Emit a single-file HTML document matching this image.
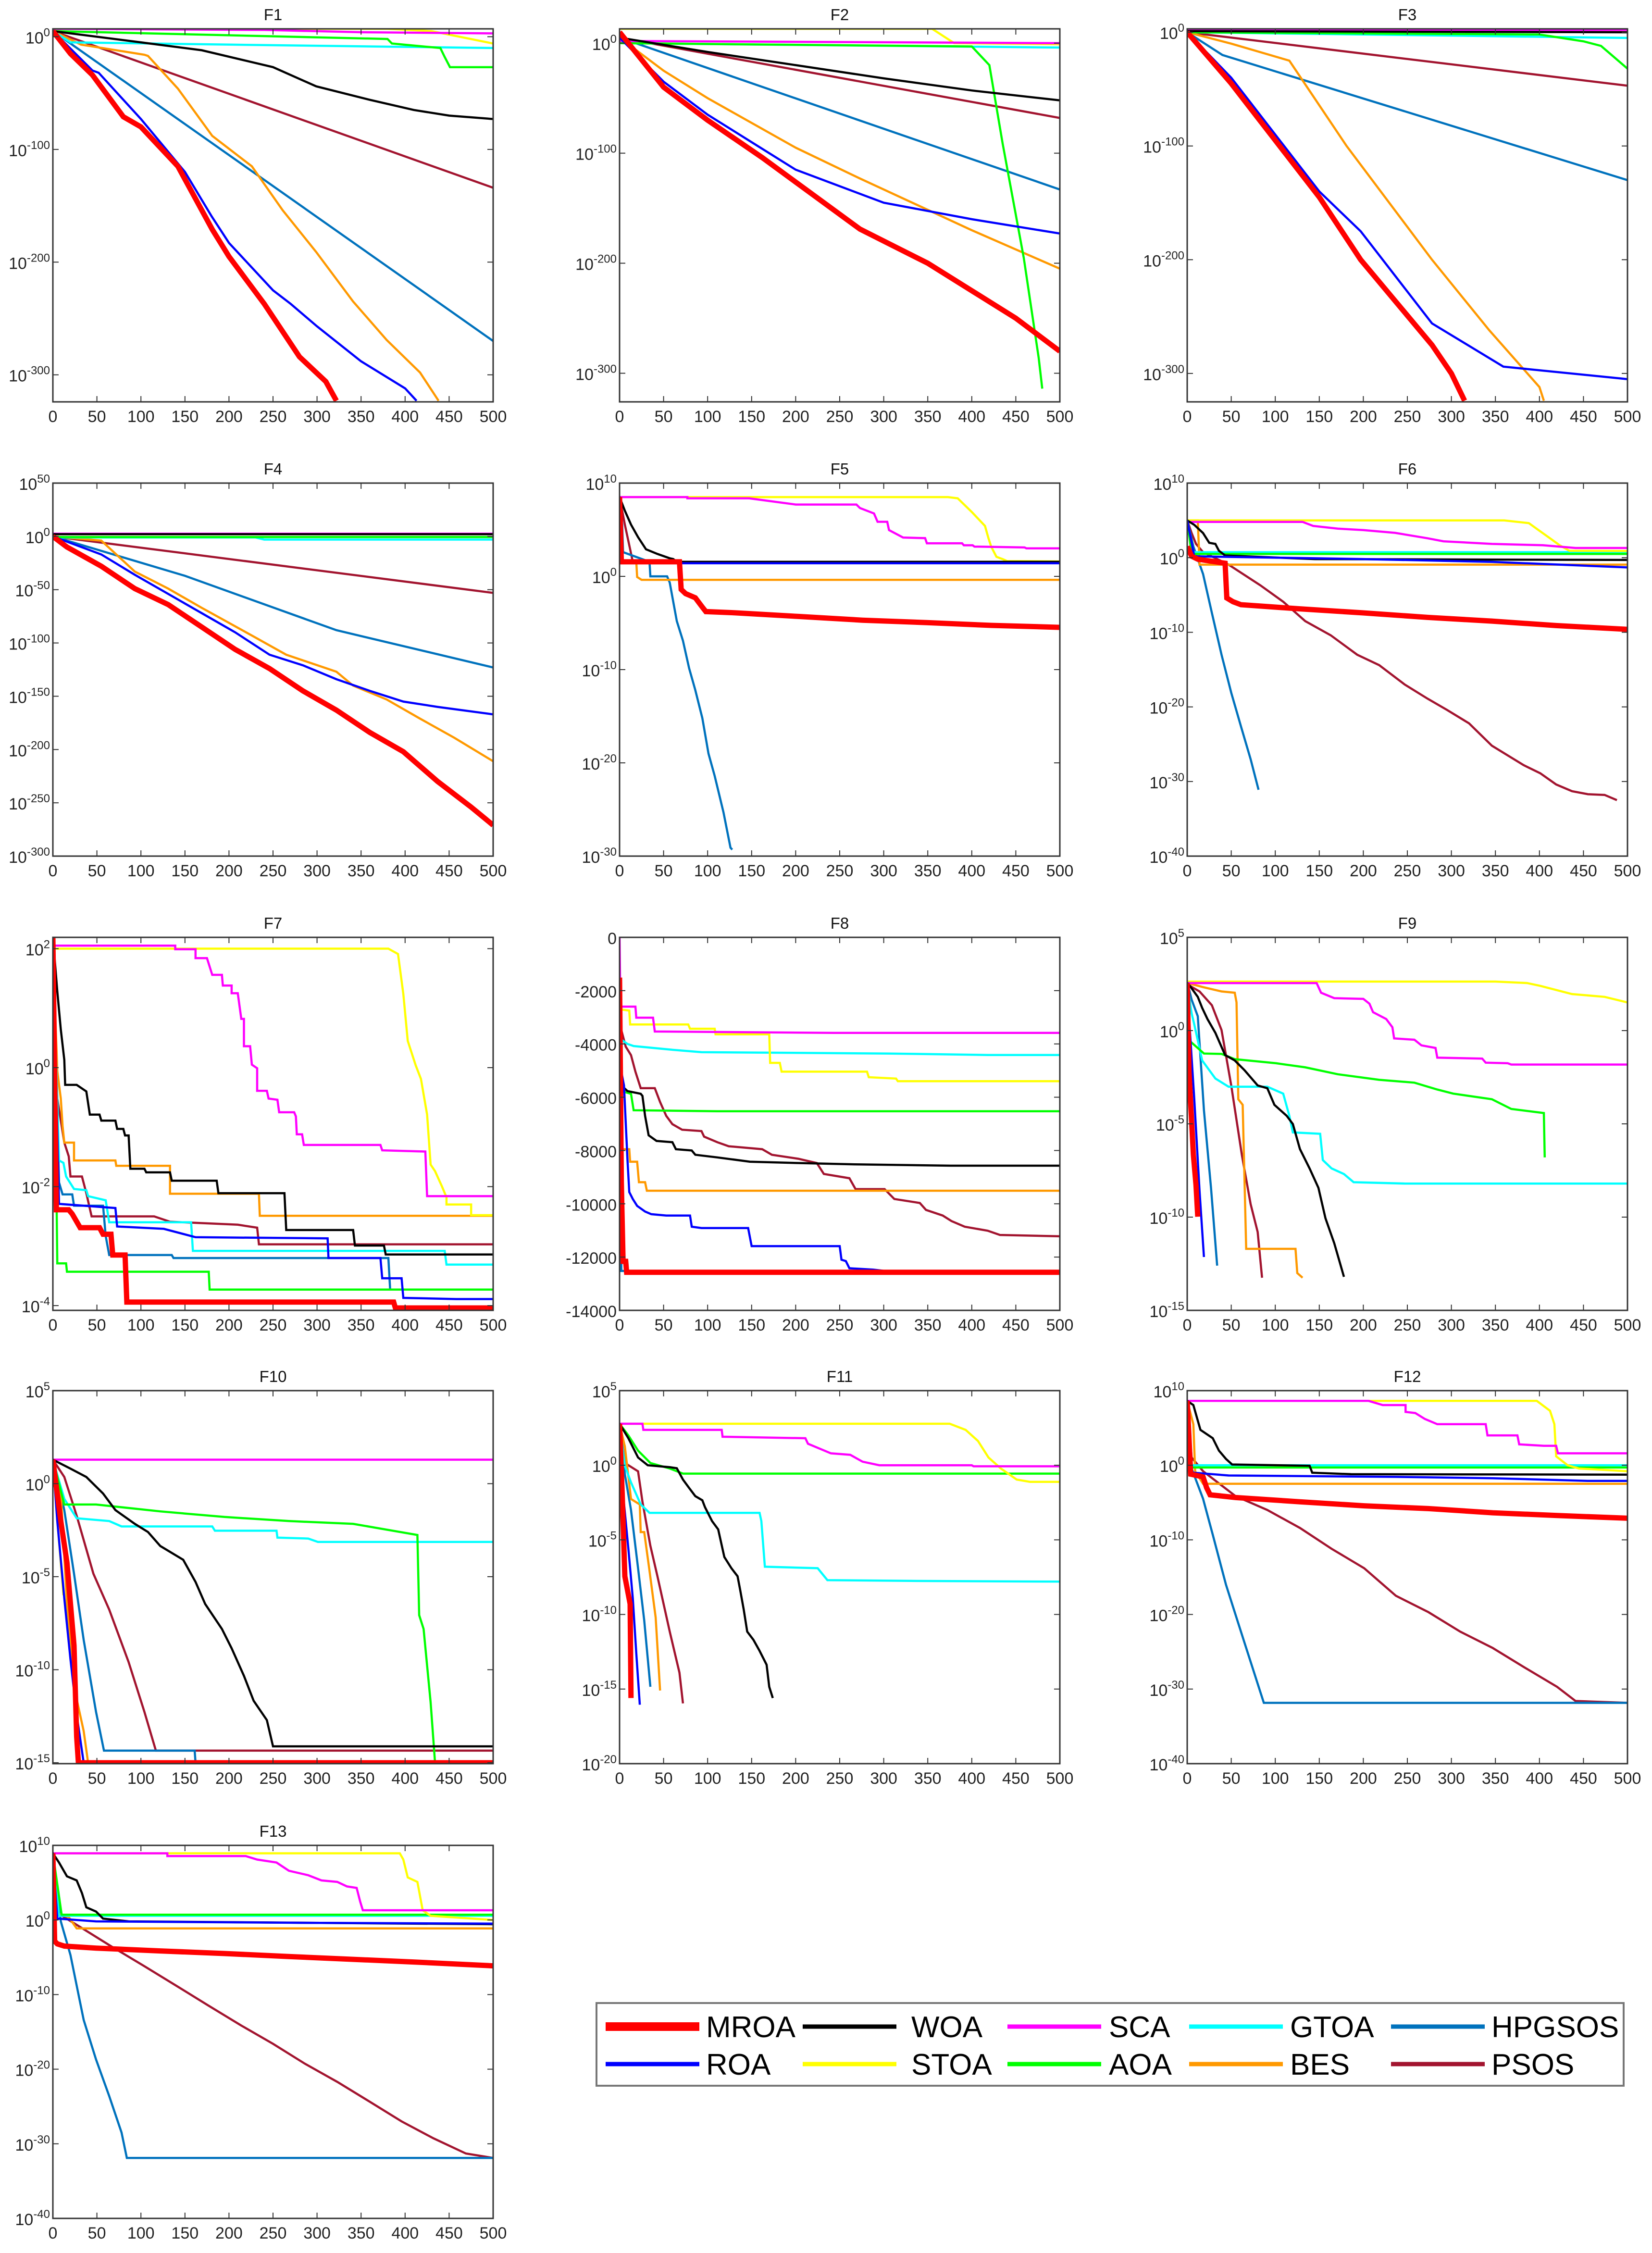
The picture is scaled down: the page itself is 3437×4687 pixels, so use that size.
<!DOCTYPE html>
<html><head><meta charset="utf-8">
<style>
html,body{margin:0;padding:0;background:#fff;}
svg{display:block;font-family:"Liberation Sans",Arial,sans-serif;}
</style></head>
<body>
<svg id="fig" xmlns="http://www.w3.org/2000/svg" width="3437" height="4687" viewBox="0 0 3437 4687"></svg>
<script>
// ---- shared data ----
const xTicks = [0,50,100,150,200,250,300,350,400,450,500];
const seriesNames = ["PSOS","HPGSOS","BES","GTOA","AOA","STOA","SCA","WOA","ROA","MROA"];
const legendNames = ["MROA","WOA","SCA","GTOA","HPGSOS","ROA","STOA","AOA","BES","PSOS"];
const titles = ["F1","F2","F3","F4","F5","F6","F7","F8","F9","F10","F11","F12","F13"];
const yMins = [-324,-326,-325,-300,-30,-40,-4.08,-14000,-15,-15.05,-20,-40,-40];
const yMaxs = [7,13,3,50,10,10,2.19,0,5,5,5,10,10];
const yTicks = [
 [0,-100,-200,-300],[0,-100,-200,-300],[0,-100,-200,-300],
 [50,0,-50,-100,-150,-200,-250,-300],[10,0,-10,-20,-30],[10,0,-10,-20,-30,-40],
 [2,0,-2,-4],[0,-2000,-4000,-6000,-8000,-10000,-12000,-14000],[5,0,-5,-10,-15],
 [5,0,-5,-10,-15],[5,0,-5,-10,-15,-20],[10,0,-10,-20,-30,-40],[10,0,-10,-20,-30,-40]];
const isLog = [1,1,1,1,1,1,1,0,1,1,1,1,1];

// series data: [iteration, log10(value)] (F8: raw value)
const F1 = {
 MROA:[[0,5],[20,-15],[45,-34],[80,-71],[100,-80],[142,-115],[181,-171],[200,-195],[240,-237],[280,-284],[310,-306],[322,-323]],
 ROA:[[0,5],[45,-30],[52,-32],[100,-73],[150,-120],[180,-159],[200,-183],[250,-225],[270,-237],[300,-257],[350,-288],[400,-312],[413,-323]],
 BES:[[0,5],[32,-7],[104,-16],[108,-17],[142,-46],[181,-88],[226,-115],[261,-154],[299,-191],[341,-235],[379,-269],[417,-298],[438,-323]],
 HPGSOS:[[0,5],[500,-270]], PSOS:[[0,5],[500,-134]],
 WOA:[[0,5],[100,-5],[169,-12],[250,-27],[299,-44],[360,-56],[410,-65],[450,-70],[500,-73]],
 GTOA:[[0,5],[20,-5],[200,-7],[500,-10]],
 AOA:[[0,5],[380,-2],[385,-6],[440,-10],[445,-18],[451,-27],[500,-27]],
 STOA:[[0,7],[380,7],[430,5],[500,-6]], SCA:[[0,7],[240,6],[350,4],[500,3]]};
const F2 = {
 MROA:[[0,10],[50,-40],[100,-70],[162,-104],[273,-169],[350,-200],[400,-225],[450,-250],[500,-280]],
 ROA:[[0,5],[50,-35],[100,-65],[150,-90],[200,-115],[300,-145],[400,-160],[500,-173]],
 BES:[[0,5],[50,-25],[100,-50],[200,-95],[273,-123],[400,-170],[500,-205]],
 HPGSOS:[[0,5],[500,-133]], PSOS:[[0,5],[500,-68]],
 WOA:[[0,5],[100,-8],[200,-20],[300,-32],[400,-43],[500,-52]],
 AOA:[[0,0],[400,-3],[420,-20],[435,-91],[459,-195],[476,-286],[480,-314]],
 GTOA:[[0,0],[500,-4]], SCA:[[0,2],[500,0]], STOA:[[0,13],[355,13],[380,0],[500,-1]]};
const F3 = {
 MROA:[[0,0],[50,-45],[100,-95],[150,-145],[197,-200],[278,-275],[300,-300],[315,-324]],
 ROA:[[0,0],[50,-40],[100,-90],[150,-140],[197,-175],[278,-256],[359,-294],[500,-305]],
 BES:[[0,0],[50,-10],[116,-25],[181,-100],[278,-200],[343,-262],[400,-312],[405,-324]],
 HPGSOS:[[0,0],[40,-20],[500,-130]], PSOS:[[0,0],[500,-47]],
 AOA:[[0,0],[400,-2],[450,-8],[470,-12],[500,-32]], GTOA:[[0,0],[500,-5]],
 WOA:[[0,1],[500,0]], STOA:[[0,2],[500,1]], SCA:[[0,2],[500,2]]};
const F4 = {
 MROA:[[0,0],[16,-10],[55,-28],[93,-49],[131,-64],[169,-85],[207,-106],[246,-124],[284,-145],[322,-163],[360,-184],[398,-202],[437,-230],[475,-254],[500,-271]],
 ROA:[[0,0],[55,-17],[93,-36],[131,-54],[169,-72],[207,-90],[246,-111],[284,-121],[322,-134],[360,-145],[398,-155],[437,-160],[500,-167]],
 BES:[[0,0],[55,-4],[93,-33],[131,-49],[169,-67],[226,-93],[265,-111],[322,-127],[341,-140],[379,-153],[417,-171],[456,-189],[500,-211]],
 HPGSOS:[[0,0],[150,-37],[322,-88],[500,-123]], PSOS:[[0,0],[500,-53]],
 GTOA:[[0,-1],[230,-1],[240,-3],[500,-3]], AOA:[[0,-0.6],[500,-0.6]],
 STOA:[[0,2],[500,2]], WOA:[[0,2],[500,2]], SCA:[[0,2.5],[500,2.5]]};
const F5 = {
 SCA:[[0,8.5],[77,8.5],[77,8.37],[147,8.37],[200,7.7],[269,7.7],[273,7.33],[289,6.74],[293,5.85],[304,5.85],[306,4.96],[322,4.16],[347,4.1],[349,3.54],[389,3.54],[391,3.33],[401,3.33],[403,3.19],[460,3.1],[462,3.0],[500,3.0]],
 STOA:[[0,8.5],[373,8.5],[384,8.37],[400,6.9],[415,5.4],[419,4.07],[422,3.19],[428,2.1],[435,1.85],[440,1.64],[500,1.6]],
 GTOA:[[0,8.5],[3,1.56],[500,1.56]], AOA:[[0,8.5],[2,1.5],[500,1.5]],
 PSOS:[[0,8.5],[6,5.55],[12,2.9],[15,1.56],[17,1.4],[500,1.4]],
 WOA:[[0,8.5],[6,7.04],[13,5.55],[21,4.2],[30,2.9],[43,2.4],[57,1.94],[61,1.85],[65,1.56],[500,1.56]],
 HPGSOS:[[0,8.5],[3,5.5],[4,2.6],[34,1.56],[35,0],[54,0],[57,-0.67],[65,-4.8],[72,-6.9],[79,-9.85],[86,-12.2],[94,-15.2],[101,-19],[108,-21.4],[118,-25.3],[126,-29.1],[128,-29.3]],
 BES:[[0,8.5],[3,1.56],[19,1.56],[20,-0.07],[25,-0.37],[500,-0.37]],
 ROA:[[0,8.5],[3,1.4],[500,1.4]],
 MROA:[[0,8.5],[2,1.56],[68,1.56],[70,-1.4],[75,-1.85],[86,-2.3],[94,-3.3],[98,-3.78],[130,-3.9],[203,-4.3],[276,-4.7],[349,-4.96],[422,-5.26],[500,-5.47]]};
const F6 = {
 STOA:[[0,5],[360,5],[388,4.63],[399,3.7],[412,2.6],[423,1.67],[434,0.93],[500,0.9]],
 SCA:[[0,4.8],[131,4.8],[143,4.26],[171,3.9],[200,3.7],[236,3.33],[273,2.6],[291,2.2],[346,1.85],[404,1.67],[441,1.3],[500,1.3]],
 BES:[[0,5],[12,5],[14,-0.93],[500,-0.93]],
 GTOA:[[0,5],[7,0.74],[500,0.74]], AOA:[[0,5],[5,0.5],[500,0.5]],
 WOA:[[0,5],[8,4.4],[18,3.3],[25,2.0],[32,1.85],[36,0.93],[43,0.3],[91,0.07],[145,-0.19],[500,-0.3]],
 ROA:[[0,5],[8,0.19],[200,-0.19],[346,-0.56],[500,-1.3]],
 HPGSOS:[[0,5],[7,1.5],[18,-2.2],[28,-7.4],[39,-13],[50,-18.1],[61,-22.6],[72,-27],[81,-31.1]],
 PSOS:[[0,5],[5,3.3],[10,1.85],[18,0.74],[47,-0.93],[83,-3.7],[109,-5.9],[134,-8.5],[163,-10.4],[193,-13],[218,-14.4],[247,-17],[273,-18.9],[295,-20.4],[320,-22.2],[346,-25.2],[382,-27.8],[401,-28.9],[419,-30.4],[437,-31.3],[455,-31.7],[474,-31.8],[488,-32.5]],
 MROA:[[0,1.5],[5,0.2],[12,-0.2],[43,-0.74],[45,-5.4],[52,-5.9],[61,-6.3],[127,-6.85],[200,-7.4],[273,-8],[346,-8.5],[419,-9.1],[500,-9.6]]};
const F7 = {
 SCA:[[0,2.05],[139,2.05],[139,1.99],[162,1.99],[162,1.84],[175,1.84],[181,1.56],[192,1.56],[193,1.38],[203,1.38],[203,1.25],[210,1.25],[214,0.82],[217,0.82],[217,0.36],[224,0.36],[226,0.05],[232,-0.01],[232,-0.39],[243,-0.39],[245,-0.52],[255,-0.54],[257,-0.75],[274,-0.75],[276,-0.82],[277,-1.12],[283,-1.12],[285,-1.3],[372,-1.3],[374,-1.39],[423,-1.41],[425,-2.16],[500,-2.16]],
 STOA:[[0,2],[381,2],[392,1.91],[398,1.24],[403,0.45],[412,0.04],[418,-0.19],[425,-0.79],[429,-1.63],[434,-1.74],[442,-2.0],[447,-2.18],[447,-2.3],[475,-2.3],[475,-2.48],[500,-2.48]],
 BES:[[0,2],[5,-0.06],[9,-0.52],[11,-0.98],[13,-1.26],[24,-1.26],[24,-1.56],[71,-1.56],[72,-1.65],[133,-1.65],[133,-2.12],[234,-2.12],[235,-2.49],[500,-2.49]],
 WOA:[[0,2.2],[5,1.28],[9,0.64],[13,0.13],[14,-0.29],[27,-0.29],[38,-0.4],[42,-0.79],[53,-0.79],[55,-0.89],[71,-0.89],[73,-1.03],[80,-1.03],[82,-1.14],[86,-1.14],[88,-1.7],[104,-1.7],[106,-1.76],[133,-1.76],[135,-1.9],[186,-1.9],[188,-2.11],[263,-2.11],[265,-2.73],[341,-2.73],[343,-2.99],[376,-2.99],[378,-3.14],[500,-3.14]],
 GTOA:[[0,2],[7,-1.56],[12,-1.6],[15,-1.83],[24,-2.04],[38,-2.06],[40,-2.16],[60,-2.23],[64,-2.6],[157,-2.6],[159,-3.08],[445,-3.08],[447,-3.31],[500,-3.31]],
 HPGSOS:[[0,2],[7,-1.93],[11,-2.13],[22,-2.13],[24,-2.32],[57,-2.32],[60,-2.83],[64,-3.15],[135,-3.15],[137,-3.2],[381,-3.2],[383,-3.73],[500,-3.73]],
 ROA:[[0,2],[7,-2.29],[71,-2.36],[73,-2.67],[126,-2.71],[162,-2.85],[312,-2.87],[313,-3.2],[372,-3.2],[374,-3.54],[396,-3.54],[398,-3.87],[458,-3.89],[500,-3.89]],
 PSOS:[[0,2],[5,-0.52],[13,-1.26],[18,-1.49],[20,-1.83],[33,-1.83],[38,-2.11],[44,-2.5],[115,-2.5],[133,-2.59],[210,-2.64],[232,-2.69],[234,-2.97],[500,-2.97]],
 AOA:[[0,2],[4,-1.95],[5,-3.29],[15,-3.29],[16,-3.43],[177,-3.43],[178,-3.73],[500,-3.73]],
 MROA:[[0,2.2],[4,-2.39],[18,-2.39],[22,-2.46],[31,-2.69],[53,-2.69],[57,-2.8],[66,-2.8],[68,-3.15],[82,-3.15],[84,-3.94],[387,-3.94],[389,-4.04],[500,-4.04]]};
const F8 = {
 SCA:[[0,0],[1,-2600],[18,-2600],[19,-3015],[38,-3015],[40,-3535],[243,-3585],[500,-3585]],
 STOA:[[0,-2700],[11,-2750],[12,-3270],[78,-3270],[80,-3430],[108,-3430],[109,-3640],[170,-3640],[171,-4710],[182,-4710],[184,-5040],[281,-5040],[283,-5250],[314,-5300],[316,-5400],[500,-5400]],
 GTOA:[[0,-3500],[2,-3840],[9,-4000],[16,-4080],[57,-4210],[93,-4310],[305,-4360],[418,-4415],[500,-4415]],
 AOA:[[0,-5500],[2,-5770],[13,-5870],[16,-6490],[111,-6525],[500,-6525]],
 WOA:[[0,-5000],[2,-5560],[9,-5770],[24,-5870],[26,-5950],[29,-6700],[33,-7430],[42,-7640],[60,-7690],[64,-7950],[82,-8000],[86,-8160],[111,-8260],[148,-8420],[203,-8470],[268,-8520],[376,-8570],[500,-8570]],
 PSOS:[[0,-3000],[2,-3480],[7,-4100],[13,-4420],[18,-5040],[24,-5660],[40,-5660],[46,-6180],[53,-6700],[60,-7010],[71,-7220],[93,-7270],[96,-7480],[111,-7690],[124,-7840],[162,-7950],[173,-8160],[203,-8310],[224,-8470],[232,-8880],[261,-9040],[268,-9450],[301,-9450],[312,-9820],[341,-9970],[348,-10230],[367,-10440],[377,-10650],[392,-10860],[418,-11010],[432,-11170],[500,-11220]],
 BES:[[0,-5000],[2,-7950],[11,-7950],[12,-8420],[20,-8420],[22,-9190],[29,-9190],[31,-9510],[500,-9510]],
 HPGSOS:[[0,-3000],[2,-12520],[500,-12520]],
 ROA:[[0,-4000],[2,-5040],[5,-5560],[9,-8360],[11,-9560],[15,-9820],[20,-10080],[29,-10290],[36,-10390],[53,-10440],[80,-10440],[82,-10860],[93,-10910],[146,-10910],[150,-11590],[250,-11590],[252,-12100],[257,-12150],[261,-12420],[288,-12470],[301,-12520],[500,-12540]],
 MROA:[[0,-1510],[2,-9190],[4,-12160],[7,-12160],[8,-12570],[500,-12570]]};
const F9 = {
 STOA:[[0,2.63],[350,2.63],[386,2.55],[401,2.4],[437,1.96],[474,1.81],[500,1.51]],
 SCA:[[0,2.55],[147,2.55],[152,2.03],[167,1.74],[200,1.7],[207,1.44],[211,0.99],[226,0.62],[233,0.18],[235,-0.42],[258,-0.49],[266,-0.79],[282,-0.93],[284,-1.45],[335,-1.5],[339,-1.72],[364,-1.75],[368,-1.82],[500,-1.82]],
 AOA:[[0,2.5],[3,-0.56],[19,-1.23],[39,-1.25],[54,-1.53],[101,-1.75],[134,-1.97],[171,-2.34],[218,-2.64],[258,-2.79],[284,-3.16],[302,-3.38],[346,-3.68],[368,-4.2],[405,-4.42],[406,-6.8]],
 GTOA:[[0,2.55],[5,0.92],[8,0.33],[17,-1.6],[32,-2.57],[47,-3.01],[91,-3.01],[109,-3.38],[116,-4.57],[120,-5.46],[151,-5.53],[154,-6.94],[164,-7.39],[178,-7.69],[189,-8.13],[247,-8.2],[500,-8.2]],
 BES:[[0,2.55],[18,2.33],[39,2.1],[54,2.03],[56,1.51],[58,-3.68],[63,-3.98],[67,-11.7],[123,-11.7],[125,-13.0],[131,-13.25]],
 WOA:[[0,2.55],[3,2.4],[12,1.81],[17,1.22],[23,0.62],[32,-0.12],[43,-1.31],[54,-1.6],[65,-2.12],[80,-2.94],[91,-3.09],[99,-3.98],[113,-4.57],[120,-5.01],[128,-6.35],[139,-7.39],[149,-8.43],[157,-10.06],[167,-11.4],[178,-13.2]],
 PSOS:[[0,2.55],[3,2.4],[14,2.1],[28,1.36],[39,0.03],[50,-2.94],[62,-6.65],[72,-9.3],[80,-10.8],[85,-13.25]],
 HPGSOS:[[0,2.6],[5,1.66],[12,0.77],[19,-4.27],[27,-8.43],[34,-12.6]],
 ROA:[[0,2.55],[3,0.03],[8,-3.68],[14,-8.58],[19,-12.14]],
 MROA:[[0,2.55],[2,-2.2],[7,-6.65],[10,-8.28],[12,-9.98]]};
const F10 = {
 SCA:[[0,1.29],[500,1.29]],
 AOA:[[0,1.29],[13,-1.12],[49,-1.12],[122,-1.49],[195,-1.79],[268,-2.01],[341,-2.16],[414,-2.76],[416,-7.07],[421,-7.81],[429,-11.75],[434,-15]],
 GTOA:[[0,1.29],[13,-0.82],[27,-1.86],[64,-2.01],[78,-2.3],[181,-2.3],[184,-2.53],[254,-2.53],[255,-2.9],[290,-2.95],[301,-3.13],[500,-3.13]],
 WOA:[[0,1.29],[20,0.81],[38,0.36],[57,-0.53],[71,-1.42],[93,-2.16],[108,-2.6],[122,-3.35],[148,-4.09],[162,-5.28],[173,-6.47],[192,-7.81],[203,-8.85],[217,-10.33],[228,-11.67],[243,-12.71],[250,-14.12],[500,-14.12]],
 PSOS:[[0,1.29],[13,0.36],[27,-1.72],[46,-4.84],[64,-6.77],[86,-9.59],[104,-12.27],[117,-14.35],[500,-14.35]],
 HPGSOS:[[0,1.29],[13,-1.42],[24,-4.84],[35,-8.4],[49,-12.27],[58,-14.35],[161,-14.35],[162,-15]],
 ROA:[[0,1.29],[5,-2.01],[13,-6.17],[20,-9.44],[27,-12.41],[35,-15],[500,-15]],
 BES:[[0,1.29],[9,-0.5],[16,-6.47],[24,-10.93],[35,-13.3],[40,-15]],
 STOA:[[0,1.29],[5,-2.0],[12,-6.0]],
 MROA:[[0,1.29],[9,-2.01],[16,-4.24],[24,-8.7],[27,-13.6],[29,-15],[500,-15]]};
const F11 = {
 STOA:[[0,2.78],[375,2.78],[393,2.37],[407,1.63],[419,0.52],[433,-0.22],[451,-0.96],[466,-1.11],[500,-1.11]],
 SCA:[[0,2.78],[26,2.78],[27,2.37],[116,2.37],[117,1.91],[211,1.81],[214,1.44],[225,1.17],[240,0.8],[262,0.7],[276,0.24],[295,0],[400,0],[402,-0.07],[500,-0.07]],
 AOA:[[0,2.78],[10,2],[21,0.98],[35,0.15],[57,-0.22],[72,-0.56],[500,-0.56]],
 WOA:[[0,2.78],[10,1.81],[21,0.52],[32,0],[57,-0.13],[65,-0.2],[72,-0.96],[79,-1.52],[86,-2.07],[94,-2.35],[97,-2.81],[105,-3.74],[112,-4.3],[119,-6.15],[127,-6.9],[134,-7.44],[137,-8.37],[141,-9.67],[145,-11.15],[152,-11.7],[159,-12.44],[167,-13.37],[170,-14.85],[174,-15.6]],
 GTOA:[[0,2.78],[6,-0.04],[13,-1.15],[24,-2.63],[34,-3.19],[159,-3.19],[161,-3.74],[165,-6.8],[225,-6.9],[236,-7.7],[331,-7.75],[500,-7.8]],
 BES:[[0,2.78],[6,1.26],[13,-2.26],[23,-2.63],[24,-4.48],[28,-4.48],[34,-7.07],[41,-10.2],[46,-15.1]],
 PSOS:[[0,2.78],[6,0.15],[21,-0.41],[26,-2.44],[35,-5.4],[43,-7.44],[57,-11.15],[68,-13.9],[72,-15.96]],
 HPGSOS:[[0,2.78],[6,-0.59],[13,-3],[21,-6.9],[28,-10.4],[35,-14.85]],
 ROA:[[0,2.78],[4,-1.9],[10,-5.6],[15,-8.9],[19,-12.6],[23,-16.05]],
 MROA:[[0,2.78],[3,-1.9],[6,-7.44],[12,-9.3],[13,-15.6]]};
const F12 = {
 SCA:[[0,8.63],[206,8.63],[222,8.07],[248,8.07],[248,7.15],[259,7.0],[270,6.2],[284,5.5],[339,5.5],[341,4],[375,4],[377,2.8],[405,2.6],[419,2.6],[421,1.6],[500,1.6]],
 STOA:[[0,8.63],[397,8.63],[412,7.3],[417,5.5],[419,1.2],[432,0],[445,-0.44],[500,-0.8]],
 GTOA:[[0,8.6],[5,0.0],[500,0.0]], AOA:[[0,8.6],[5,-0.3],[500,-0.3]],
 WOA:[[0,8.63],[7,8.07],[15,4.74],[29,3.63],[36,1.96],[44,0.85],[51,0.1],[139,-0.07],[142,-1],[186,-1.2],[500,-1.26]],
 ROA:[[0,8.63],[4,-0.8],[7,-1],[47,-1.37],[237,-1.56],[347,-1.74],[456,-2.1],[500,-2.1]],
 BES:[[0,8.63],[7,5.5],[9,-0.8],[18,-2.48],[500,-2.48]],
 PSOS:[[0,8.63],[5,1.04],[18,-0.8],[55,-4.15],[91,-6],[128,-8.4],[164,-11.2],[201,-13.8],[237,-17.5],[274,-19.7],[310,-22.3],[347,-24.5],[383,-27.1],[420,-29.7],[441,-31.6],[500,-31.85]],
 HPGSOS:[[0,8.63],[5,-0.44],[18,-4.5],[29,-9.3],[44,-16],[58,-21.2],[73,-26.7],[87,-31.85],[500,-31.85]],
 MROA:[[0,8.63],[4,-1.2],[18,-1.56],[22,-3],[26,-3.96],[55,-4.33],[128,-4.9],[201,-5.44],[274,-5.81],[347,-6.37],[420,-6.74],[500,-7.1]]};
const F13 = {
 SCA:[[0,8.94],[130,8.94],[130,8.57],[219,8.57],[232,8.1],[254,7.7],[268,6.6],[290,6],[305,5.3],[323,5.1],[334,4.5],[345,4.3],[349,2.45],[352,1.3],[500,1.3]],
 STOA:[[0,8.94],[394,8.94],[398,8.1],[403,5.7],[414,5.1],[420,1.3],[429,0.56],[500,0]],
 GTOA:[[0,8.9],[7,0.56],[500,0.56]], AOA:[[0,8.9],[10,0.7],[500,0.7]],
 WOA:[[0,8.94],[7,7.7],[16,5.85],[27,5.3],[33,3.6],[38,1.7],[49,1.13],[57,0.19],[86,-0.19],[500,-0.57]],
 ROA:[[0,8.94],[5,0.19],[49,-0.19],[286,-0.38],[500,-0.49]],
 BES:[[0,8.94],[4,0.94],[18,0.38],[27,-1.13],[500,-1.13]],
 PSOS:[[0,8.94],[5,0.94],[31,-0.94],[67,-3.58],[104,-6.2],[141,-8.87],[177,-11.5],[214,-14.15],[250,-16.6],[286,-19.25],[323,-21.7],[359,-24.3],[396,-27],[432,-29.25],[469,-31.3],[500,-31.9]],
 HPGSOS:[[0,8.94],[9,-0.19],[20,-4.7],[35,-13.4],[49,-18.7],[64,-23.6],[78,-28.5],[84,-31.9],[500,-31.9]],
 MROA:[[0,8.94],[2,-2.83],[5,-3.2],[13,-3.5],[49,-3.77],[122,-4.15],[195,-4.5],[268,-4.9],[341,-5.28],[414,-5.66],[500,-6.15]]};
const allSeries = [F1,F2,F3,F4,F5,F6,F7,F8,F9,F10,F11,F12,F13];

// ---- styling / layout ----
const colors = {MROA:"#ff0000",WOA:"#000000",SCA:"#ff00ff",GTOA:"#00ffff",HPGSOS:"#0072bd",ROA:"#0000ff",STOA:"#ffff00",AOA:"#00ff00",BES:"#ff9900",PSOS:"#a2142f"};
const colL = [110,1289,2470], rowT = [60,1005,1950,2893,3839];
const PW = 916, PH = 776;
const NS = "http://www.w3.org/2000/svg";
const fig = document.getElementById("fig");
function mk(tag, attrs, parent){ const e=document.createElementNS(NS,tag); for(const k in attrs) e.setAttribute(k,attrs[k]); (parent||fig).appendChild(e); return e; }
mk("rect",{x:0,y:0,width:3437,height:4687,fill:"#fff"});

allSeries.forEach((S,i)=>{
  const L = colL[i%3], T = rowT[Math.floor(i/3)];
  const ymin = yMins[i], ymax = yMaxs[i];
  const xs = v => L + v/500*PW;
  const ys = v => T + (ymax - v)/(ymax - ymin)*PH;
  const g = mk("g",{});
  
  
  const cp = mk("clipPath",{id:"cp"+i},g);
  mk("rect",{x:L,y:T,width:PW,height:PH},cp);
  const title = mk("text",{x:L+PW/2,y:T-18,"font-size":33,"text-anchor":"middle",fill:"#111"},g);
  title.textContent = titles[i];
  
  
  const lines = mk("g",{"clip-path":"url(#cp"+i+")"},g);
  seriesNames.forEach(n=>{
    const d = S[n]; if(!d) return;
    const pts = d.map(p=>xs(p[0]).toFixed(1)+","+ys(p[1]).toFixed(1)).join(" ");
    const pl = mk("polyline",{points:pts,fill:"none",stroke:colors[n],"stroke-width":n==="MROA"?11:4.5,"stroke-linejoin":"miter"},lines);
    
    
  });
  const box = mk("rect",{x:L,y:T,width:PW,height:PH,fill:"none",stroke:"#333","stroke-width":3},g);
  
  
  xTicks.forEach(v=>{
    const x = xs(v);
    mk("line",{x1:x,y1:T+PH,x2:x,y2:T+PH-12,stroke:"#333","stroke-width":2},g);
    mk("line",{x1:x,y1:T,x2:x,y2:T+12,stroke:"#333","stroke-width":2},g);
    const t = mk("text",{x:x,y:T+PH+42,"font-size":34,"text-anchor":"middle",fill:"#222"},g);
    t.textContent = v;
    
    
  });
  yTicks[i].forEach(v=>{
    const y = ys(v);
    mk("line",{x1:L,y1:y,x2:L+12,y2:y,stroke:"#333","stroke-width":2},g);
    mk("line",{x1:L+PW,y1:y,x2:L+PW-12,y2:y,stroke:"#333","stroke-width":2},g);
    const t = mk("text",{x:L-6,y:y+14,"font-size":34,"text-anchor":"end",fill:"#222"},g);
    if(isLog[i]){
      const a = document.createElementNS(NS,"tspan"); a.textContent="10"; t.appendChild(a);
      const b = document.createElementNS(NS,"tspan"); b.setAttribute("font-size","24"); b.setAttribute("dy","-15"); b.textContent=String(v); t.appendChild(b);
    } else { t.textContent = String(v); }
    
    
  });
});

// ---- legend ----
const legendLineX = [1260,1670,2096,2474,2894];
const legendTextX = [1469,1896,2307,2684,3103];
const lg = mk("g",{});


mk("rect",{x:1241,y:4167,width:2137,height:172,fill:"#fff",stroke:"#777","stroke-width":4},lg);
legendNames.forEach((n,k)=>{
  const c = k%5, r = Math.floor(k/5);
  const cy = r===0 ? 4216 : 4294;
  const ln = mk("line",{x1:legendLineX[c],y1:cy,x2:legendLineX[c]+195,y2:cy,stroke:colors[n],"stroke-width":n==="MROA"?18:9},lg);
  
  
  const t = mk("text",{x:legendTextX[c],y:cy+22,"font-size":62,fill:"#000"},lg);
  t.textContent = n;
  
  
});
</script>
</body></html>
